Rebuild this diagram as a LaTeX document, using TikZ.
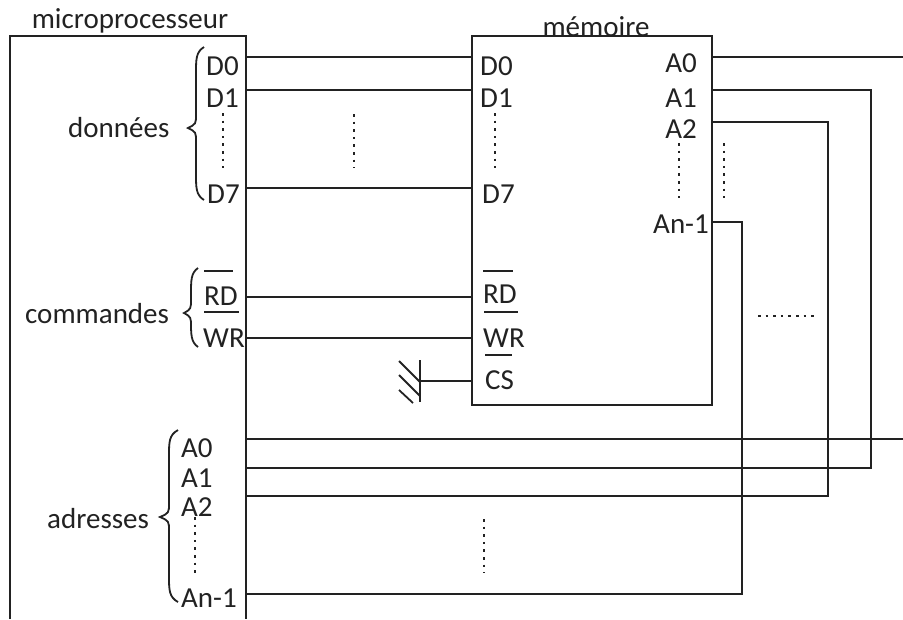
\documentclass[tikz,border=0pt]{standalone}
\usepackage{fontspec}
\setmainfont{Carlito}
\definecolor{ink}{HTML}{222222}
\newcommand{\cbrace}[5]{% tipx, endx, top, tipy, bottom
  \draw[bracestyle] ({#2},{#3}) .. controls ({(#1+#2)/2},{#3+5}) and ({(#1+#2)/2},{#3+12}) .. ({(#1+#2)/2},{#3+26})
    -- ({(#1+#2)/2},{#4-14}) .. controls ({(#1+#2)/2},{#4-4}) .. ({#1},{#4})
    .. controls ({(#1+#2)/2},{#4+4}) .. ({(#1+#2)/2},{#4+14})
    -- ({(#1+#2)/2},{#5-26}) .. controls ({(#1+#2)/2},{#5-12}) and ({(#1+#2)/2},{#5-5}) .. ({#2},{#5});}
\begin{document}
\begin{tikzpicture}[x=1pt,y=-1pt,
  wire/.style={draw=ink, line width=2.2pt},
  box/.style={draw=ink, line width=2.4pt},
  bracestyle/.style={draw=ink, line width=1.8pt},
  bar/.style={draw=ink, line width=2pt},
  dots/.style={draw=ink, line width=2.6pt, dash pattern=on 2.6pt off 5pt},
  lbl/.style={inner sep=0pt, text=ink, font=\fontsize{29}{31}\selectfont},
  lw/.style={lbl, anchor=base west},
  le/.style={lbl, anchor=base east}]
\useasboundingbox (0,0) rectangle (903,619);

% boxes
\draw[box] (10,619) -- (10,36) -- (246,36) -- (246,619);
\node[box, anchor=north west, minimum width=240pt, minimum height=369pt, inner sep=0pt] (mem) at (471,35) {};
\node[lbl, anchor=base] (tmp) at (130,28) {microprocesseur};
\node[lbl, anchor=base] (tmem) at (596,36) {mémoire};

% pin coordinates, microprocessor
\coordinate (pD0) at (246,57);
\coordinate (pD1) at (246,90);
\coordinate (pD7) at (246,188);
\coordinate (pRD) at (246,297);
\coordinate (pWR) at (246,338);
\coordinate (pA0) at (246,439);
\coordinate (pA1) at (246,468);
\coordinate (pA2) at (246,496);
\coordinate (pAn) at (246,594);
% pin coordinates, memory
\coordinate (mD0) at (471,57);
\coordinate (mD1) at (471,90);
\coordinate (mD7) at (471,188);
\coordinate (mRD) at (471,297);
\coordinate (mWR) at (471,338);
\coordinate (mCS) at (471,381);
\coordinate (mA0) at (711,57);
\coordinate (mA1) at (711,90);
\coordinate (mA2) at (711,122);
\coordinate (mAn) at (711,222);
% corners and free ends
\coordinate (eA0) at (903,57);
\coordinate (eB0) at (903,439);
\coordinate (k1) at (871,468);
\coordinate (k2) at (828,496);
\coordinate (kn) at (742,594);
\coordinate (gnd) at (420,381);

% wires
\draw[wire] (pD0) -- (mD0);
\draw[wire] (pD1) -- (mD1);
\draw[wire] (pD7) -- (mD7);
\draw[wire] (pRD) -- (mRD);
\draw[wire] (pWR) -- (mWR);
\draw[wire] (mA0) -- (eA0);
\draw[wire] (pA0) -- (eB0);
\draw[wire] (mA1) -| (k1) -- (pA1);
\draw[wire] (mA2) -| (k2) -- (pA2);
\draw[wire] (mAn) -| (kn) -- (pAn);
\draw[wire] (mCS) -- (gnd);
% ground
\draw[wire] (420,360) -- (420,402);
\draw[draw=ink, line width=1.8pt] (399,361) -- (420,382);
\draw[draw=ink, line width=1.8pt] (399,375) -- (420,396);
\draw[draw=ink, line width=1.8pt] (399,390) -- (413,403);

% labels microprocessor
\node[lw] (lpD0) at (206,75) {D0};
\node[lw] (lpD1) at (206,107) {D1};
\node[lw] (lpD7) at (207,203) {D7};
\node[lw] (lpRD) at (204,305) {RD};
\node[lw] (lpWR) at (203,347) {WR};
\node[lw] (lpA0) at (181,457) {A0};
\node[lw] (lpA1) at (181,487) {A1};
\node[lw] (lpA2) at (181,516) {A2};
\node[lw] (lpAn) at (181,607) {An-1};
\node[lw] (ldon) at (68,137) {données};
\node[lw] (lcom) at (25,323) {commandes};
\node[lw] (ladr) at (47,528) {adresses};
\draw[bar] (204,271) -- (233,271);
\draw[bar] (204,312) -- (239,312);

% labels memory
\node[lw] (lmD0) at (480,75) {D0};
\node[lw] (lmD1) at (480,107) {D1};
\node[lw] (lmD7) at (482,203) {D7};
\node[lw] (lmRD) at (483,303) {RD};
\node[lw] (lmWR) at (483,347) {WR};
\node[lw] (lmCS) at (485,389) {CS};
\node[le] (lmA0) at (697,72) {A0};
\node[le] (lmA1) at (697,107) {A1};
\node[le] (lmA2) at (697,138) {A2};
\node[le] (lmAn) at (709,233) {An-1};
\draw[bar] (483,271) -- (513,271);
\draw[bar] (484,312) -- (518,312);
\draw[bar] (485,355) -- (512,355);

% braces
\cbrace{188}{204}{47}{128}{200}
\cbrace{184}{198}{268}{313}{347}
\cbrace{160}{178}{430}{517}{602}

% dotted ellipses
\draw[dots] (223,113) -- (223,168);
\draw[dots] (354,114) -- (354,168);
\draw[dots] (495,113) -- (495,168);
\draw[dots] (679,143) -- (679,198);
\draw[dots] (724,143) -- (724,198);
\draw[dots] (758,316) -- (814,316);
\draw[dots] (484,519) -- (484,573);
\draw[dots] (195,517) -- (195,573);
\end{tikzpicture}
\end{document}
